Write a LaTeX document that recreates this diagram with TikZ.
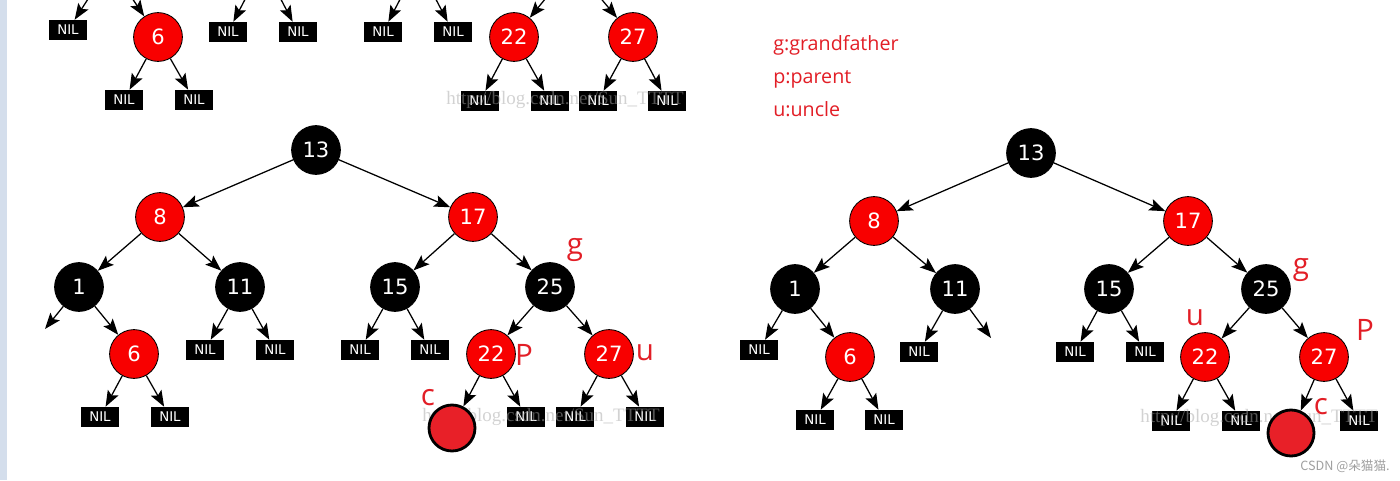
\documentclass[tikz,border=0pt]{standalone}
\usepackage{fontspec}
\setmainfont{DejaVu Sans}
\newfontfamily\notefont{Open Sans}
\newfontfamily\markfont{Liberation Serif}
\newfontfamily\cjk{Noto Sans CJK SC}
\usetikzlibrary{arrows.meta, positioning}
\definecolor{rbred}{RGB}{248,0,0}
\definecolor{newred}{RGB}{232,32,40}
\definecolor{inkred}{RGB}{226,30,38}
\definecolor{sideblue}{RGB}{212,222,236}

\begin{document}
\begin{tikzpicture}[
    x=0.025cm, y=-0.025cm,
    rbnode/.style={circle, minimum size=1.22cm, inner sep=0pt, draw=black,
                   line width=0.6pt, text=white, font=\fontsize{15}{15}\selectfont},
    rednode/.style={rbnode, fill=rbred},
    blacknode/.style={rbnode, fill=black},
    newnode/.style={circle, minimum size=1.15cm, inner sep=0pt, draw=black,
                    line width=2pt, fill=newred},
    nil/.style={rectangle, minimum width=0.95cm, minimum height=0.5cm, inner sep=0pt,
                fill=black, text=white, font=\fontsize{9.5}{9.5}\selectfont},
    arrow/.style={-{Stealth[length=0.4cm, width=0.3cm, inset=0.08cm]}, line width=0.9pt},
    hand/.style={text=inkred, font=\notefont\fontsize{21}{21}\selectfont, inner sep=0pt},
    legend/.style={text=inkred, font=\notefont\fontsize{14}{14}\selectfont, inner sep=0pt,
                   anchor=base west},
    wmark/.style={text=gray!70, opacity=0.5, inner sep=0pt, anchor=west,
                  font=\markfont\fontsize{13.5}{13.5}\selectfont}
  ]
    \useasboundingbox (0,0) rectangle (1400,480);
    \clip (0,0) rectangle (1400,480);
    \fill[sideblue] (0,0) rectangle (7,480);

    % Top strip (rest of the tree above)
    \coordinate (tp1) at (110,-35);
    \coordinate (tp11) at (263,-35);
    \coordinate (tp15) at (418,-35);
    \coordinate (tp25) at (573,-35);
    \node[nil] (tn1) at (68,30) {NIL};
    \node[rednode] (t6) at (158,37) {6};
    \node[nil] (tn2) at (228,32) {NIL};
    \node[nil] (tn3) at (298,32) {NIL};
    \node[nil] (tn4) at (383,32) {NIL};
    \node[nil] (tn5) at (453,32) {NIL};
    \node[rednode] (t22) at (514,37) {22};
    \node[rednode] (t27) at (633,37) {27};
    \node[nil] (tn6) at (124,100) {NIL};
    \node[nil] (tn7) at (194,100) {NIL};
    \node[nil] (tn8) at (480,101) {NIL};
    \node[nil] (tn9) at (550,101) {NIL};
    \node[nil] (tn10) at (598,101) {NIL};
    \node[nil] (tn11) at (667,101) {NIL};

    \draw[arrow] (tp1) -- (tn1);
    \draw[arrow] (tp1) -- (t6);
    \draw[arrow] (tp11) -- (tn2);
    \draw[arrow] (tp11) -- (tn3);
    \draw[arrow] (tp15) -- (tn4);
    \draw[arrow] (tp15) -- (tn5);
    \draw[arrow] (tp25) -- (t22);
    \draw[arrow] (tp25) -- (t27);
    \draw[arrow] (t6) -- (tn6);
    \draw[arrow] (t6) -- (tn7);
    \draw[arrow] (t22) -- (tn8);
    \draw[arrow] (t22) -- (tn9);
    \draw[arrow] (t27) -- (tn10);
    \draw[arrow] (t27) -- (tn11);

    % Legend
    \node[legend] (lg) at (773,50) {g:grandfather};
    \node[legend, below=0.825cm of lg.base west, anchor=base west] (lp) {p:parent};
    \node[legend, below=0.825cm of lp.base west, anchor=base west] (lu) {u:uncle};

    % Left tree (before)
    \node[blacknode] (a13) at (316,150) {13};
    \node[rednode] (a8) at (160,217) {8};
    \node[rednode] (a17) at (473,217) {17};
    \node[blacknode] (a1) at (79,287) {1};
    \node[blacknode] (a11) at (240,287) {11};
    \node[blacknode] (a15) at (395,287) {15};
    \node[blacknode] (a25) at (550,287) {25};
    \node[rednode] (a6) at (134,354) {6};
    \node[rednode] (a22) at (491,354) {22};
    \node[rednode] (a27) at (609,354) {27};
    \coordinate (a1l) at (45,329);
    \node[nil] (an1) at (205,350) {NIL};
    \node[nil] (an2) at (275,350) {NIL};
    \node[nil] (an3) at (360,350) {NIL};
    \node[nil] (an4) at (430,350) {NIL};
    \node[nil] (an5) at (100,417) {NIL};
    \node[nil] (an6) at (170,417) {NIL};
    \node[nil] (an7) at (526,417) {NIL};
    \node[nil] (an8) at (575,417) {NIL};
    \node[nil] (an9) at (645,417) {NIL};

    \draw[arrow] (a13) -- (a8);
    \draw[arrow] (a13) -- (a17);
    \draw[arrow] (a8) -- (a1);
    \draw[arrow] (a8) -- (a11);
    \draw[arrow] (a1) -- (a1l);
    \draw[arrow] (a1) -- (a6);
    \draw[arrow] (a11) -- (an1);
    \draw[arrow] (a11) -- (an2);
    \draw[arrow] (a17) -- (a15);
    \draw[arrow] (a17) -- (a25);
    \draw[arrow] (a15) -- (an3);
    \draw[arrow] (a15) -- (an4);
    \draw[arrow] (a25) -- (a22);
    \draw[arrow] (a25) -- (a27);
    \draw[arrow] (a6) -- (an5);
    \draw[arrow] (a6) -- (an6);
    \draw[arrow] (a22) -- (an7);
    \draw[arrow] (a27) -- (an8);
    \draw[arrow] (a27) -- (an9);

    % Right tree (after)
    \node[blacknode] (b13) at (1031,153) {13};
    \node[rednode] (b8) at (874,221) {8};
    \node[rednode] (b17) at (1188,221) {17};
    \node[blacknode] (b1) at (795,289) {1};
    \node[blacknode] (b11) at (955,289) {11};
    \node[blacknode] (b15) at (1109,289) {15};
    \node[blacknode] (b25) at (1266,289) {25};
    \node[rednode] (b6) at (850,357) {6};
    \node[rednode] (b22) at (1205,357) {22};
    \node[rednode] (b27) at (1324,357) {27};
    \coordinate (b11r) at (991,338);
    \node[nil] (bn1) at (759,350) {NIL};
    \node[nil] (bn2) at (919,352) {NIL};
    \node[nil] (bn3) at (1075,352) {NIL};
    \node[nil] (bn4) at (1145,352) {NIL};
    \node[nil] (bn5) at (815,420) {NIL};
    \node[nil] (bn6) at (884,420) {NIL};
    \node[nil] (bn7) at (1171,421) {NIL};
    \node[nil] (bn8) at (1241,421) {NIL};
    \node[nil] (bn9) at (1359,421) {NIL};

    \draw[arrow] (b13) -- (b8);
    \draw[arrow] (b13) -- (b17);
    \draw[arrow] (b8) -- (b1);
    \draw[arrow] (b8) -- (b11);
    \draw[arrow] (b1) -- (bn1);
    \draw[arrow] (b1) -- (b6);
    \draw[arrow] (b11) -- (bn2);
    \draw[arrow] (b11) -- (b11r);
    \draw[arrow] (b17) -- (b15);
    \draw[arrow] (b17) -- (b25);
    \draw[arrow] (b15) -- (bn3);
    \draw[arrow] (b15) -- (bn4);
    \draw[arrow] (b25) -- (b22);
    \draw[arrow] (b25) -- (b27);
    \draw[arrow] (b6) -- (bn5);
    \draw[arrow] (b6) -- (bn6);
    \draw[arrow] (b22) -- (bn7);
    \draw[arrow] (b22) -- (bn8);
    \draw[arrow] (b27) -- (bn9);

    % Watermarks
    \node[wmark] (wm1) at (446,100) {http://blog.csdn.net/Sun\_TTTT};
    \node[wmark] (wm2) at (422,417) {http://blog.csdn.net/Sun\_TTTT};
    \node[wmark] (wm3) at (1140,418) {http://blog.csdn.net/Sun\_TTTT};
    \node[text=gray!75, inner sep=0pt, anchor=east, font=\cjk\fontsize{9}{9}\selectfont]
        (csdn) at (1390,466) {CSDN @朵猫猫.};

    % Inserted node c
    \node[newnode] (ac) at (452,428) {};
    \node[newnode] (bc) at (1291,433) {};
    \draw[arrow] (a22) -- (ac);
    \draw[arrow] (b27) -- (bc);

    % Hand marks
    \node[hand] (ag) at (575,250) {g};
    \node[hand] (ap) at (524,355) {P};
    \node[hand] (au) at (645,353) {u};
    \node[hand] (acn) at (428,398) {c};
    \node[hand] (bg) at (1301,270) {g};
    \node[hand] (bu) at (1195,318) {u};
    \node[hand] (bp) at (1365,330) {P};
    \node[hand] (bcn) at (1321,407) {c};
\end{tikzpicture}
\end{document}
